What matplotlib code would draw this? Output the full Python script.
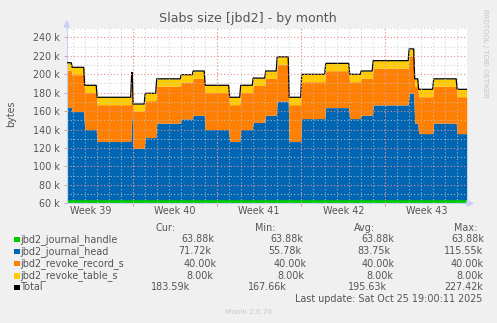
import matplotlib
matplotlib.use("Agg")
import matplotlib.pyplot as plt
import matplotlib.dates as mdates
from matplotlib.patches import Rectangle
import numpy as np
import pandas as pd

# data (values in k bytes)
change_times = ["2025-09-22 11:00", "2025-09-22 21:00", "2025-09-23 22:00", "2025-09-24 23:00",
                "2025-09-27 20:00", "2025-09-27 23:00", "2025-09-28 23:00", "2025-09-29 22:00",
                "2025-10-01 23:00", "2025-10-02 23:00", "2025-10-03 23:00", "2025-10-06 00:00",
                "2025-10-06 22:00", "2025-10-07 23:00", "2025-10-09 00:00", "2025-10-09 23:00",
                "2025-10-10 23:00", "2025-10-12 00:00", "2025-10-14 00:00", "2025-10-16 00:00",
                "2025-10-16 23:00", "2025-10-17 23:00", "2025-10-20 23:00", "2025-10-21 10:00",
                "2025-10-21 18:00", "2025-10-23 00:00", "2025-10-24 23:00"]
journal_head = [100.6, 95.6, 76.1, 63.1, 90.0, 55.78, 67.4, 83.1, 87.6, 91.6, 76.1, 63.1,
                76.1, 83.9, 91.6, 107.0, 63.1, 88.0, 99.9, 88.0, 91.6, 102.8, 115.55, 83.1,
                71.72, 83.1, 71.72]
journal_handle = 63.88
revoke_record = 40.0
revoke_table = 8.0
end_time = "2025-10-25 19:00"

week_labels = ["Week 39", "Week 40", "Week 41", "Week 42", "Week 43"]
week_starts = ["2025-09-21", "2025-09-28", "2025-10-05", "2025-10-12", "2025-10-19"]

legend_names = ["jbd2_journal_handle", "jbd2_journal_head", "jbd2_revoke_record_s",
                "jbd2_revoke_table_s", "Total"]
cur_vals = ["63.88k", "71.72k", "40.00k", "8.00k", "183.59k"]
min_vals = ["63.88k", "55.78k", "40.00k", "8.00k", "167.66k"]
avg_vals = ["63.88k", "83.75k", "40.00k", "8.00k", "195.63k"]
max_vals = ["63.88k", "115.55k", "40.00k", "8.00k", "227.42k"]

colors = ["#00cc00", "#0066b3", "#ff8000", "#ffcc00", "#000000"]

# build step series with short ramps
t = pd.to_datetime(change_times)
t_end = pd.to_datetime(end_time)
ramp = pd.Timedelta(hours=1)
xs, hs = [], []
for i, v in enumerate(journal_head):
    a = t[i] + (ramp if i > 0 else pd.Timedelta(0))
    b = (t[i + 1] - ramp) if i + 1 < len(t) else t_end
    xs += [a, b]
    hs += [v, v]
x = mdates.date2num(pd.DatetimeIndex(xs))
head = np.array(hs) * 1000
handle = np.full_like(head, journal_handle * 1000)
record = np.full_like(head, revoke_record * 1000)
table = np.full_like(head, revoke_table * 1000)

W, H = 497, 323
fig = plt.figure(figsize=(W / 100, H / 100), dpi=100, facecolor="#f0f0f0")
L, R, B, T = 66.7, 466.7, 203.3, 28.1
ax = fig.add_axes([L / W, 1 - B / H, (R - L) / W, (B - T) / H])
ax.set_facecolor("white")

y0 = handle
y1 = y0 + head
y2 = y1 + record
y3 = y2 + table
ax.fill_between(x, 0, y0, color=colors[0], lw=0, zorder=2)
ax.fill_between(x, y0, y1, color=colors[1], lw=0, zorder=2)
ax.fill_between(x, y1, y2, color=colors[2], lw=0, zorder=2)
ax.fill_between(x, y2, y3, color=colors[3], lw=0, zorder=2)
ax.plot(x, y3, color="black", lw=0.9, zorder=3)

x0 = mdates.date2num(t[0])
x1 = mdates.date2num(t_end)
ax.set_xlim(x0, x1)
ax.set_ylim(60000, 250000)

# grid
for d in pd.date_range("2025-09-23", "2025-10-25", freq="D"):
    ax.axvline(mdates.date2num(d), color="#c8c8c8", lw=0.8, ls=(0, (1, 2)), zorder=4, alpha=0.8)
for yv in range(70000, 260000, 20000):
    ax.axhline(yv, color="#c8c8c8", lw=0.8, ls=(0, (1, 2)), zorder=4, alpha=0.8)
for ws in week_starts[1:]:
    ax.axvline(mdates.date2num(pd.Timestamp(ws)), color="#e89090", lw=0.8, ls=(0, (1, 2)), zorder=4)
for yv in range(60000, 250000, 20000):
    ax.axhline(yv, color="#e89090", lw=0.8, ls=(0, (1, 2)), zorder=4)

for s in ["top", "right"]:
    ax.spines[s].set_visible(False)
for s in ["left", "bottom"]:
    ax.spines[s].set_color("#c8d0f5")
    ax.spines[s].set_linewidth(0.8)

ax.set_yticks(range(60000, 250000, 20000))
ax.set_yticklabels(["%d k" % (v // 1000) for v in range(60000, 250000, 20000)])
ax.tick_params(axis="y", length=2, width=0.6, color="#aaaaaa", labelsize=6.9,
               labelcolor="#555555", pad=3)
ax.set_xticks([mdates.date2num(pd.Timestamp(ws)) for ws in week_starts[1:]])
ax.set_xticklabels([])
ax.tick_params(axis="x", length=2, width=0.6, color="#e08080")

for lab, ws in zip(week_labels, week_starts):
    mid = mdates.date2num(pd.Timestamp(ws) + pd.Timedelta(hours=84))
    ax.text(mid, -0.045, lab, transform=ax.get_xaxis_transform(), ha="center", va="center",
            fontsize=6.9, color="#555555")

# axis arrows
fig.patches.append(plt.Polygon([[64 / W, 1 - 27 / H], [69.4 / W, 1 - 27 / H], [66.7 / W, 1 - 21 / H]],
                               closed=True, transform=fig.transFigure, color="#c8d0f5"))
fig.patches.append(plt.Polygon([[467 / W, 1 - 200.6 / H], [467 / W, 1 - 206 / H], [473 / W, 1 - 203.3 / H]],
                               closed=True, transform=fig.transFigure, color="#c8d0f5"))

def fx(px):
    return px / W

def fy(py):
    return 1 - py / H

tc = "#555555"
fig.text(fx(248), fy(18.5), "Slabs size [jbd2] - by month", ha="center", va="center",
         fontsize=9.1, color=tc)
fig.text(fx(11), fy(114), "bytes", ha="center", va="center", rotation=90, fontsize=6.9, color=tc)
fig.text(fx(485), fy(53), "RRDTOOL / TOBI OETIKER", ha="center", va="center", rotation=270,
         fontsize=5, color="#c4c4c4")

# legend table
hdr_x = [165.7, 265.3, 364.5, 465.3]
for hx, h in zip(hdr_x, ["Cur:", "Min:", "Avg:", "Max:"]):
    fig.text(fx(hx), fy(227.7), h, ha="center", va="center", fontsize=6.9, color=tc)

row_y = [239.3, 251.5, 263.6, 275.7, 287.5]
cur_x = [181, 178.3, 184, 186, 150.7]
min_x = [270.7, 268.3, 273.3, 277.3, 248.3]
avg_x = [361, 357.7, 361.7, 366, 348.3]
max_x = [451, 444.3, 450.7, 456, 444.3]
for i, name in enumerate(legend_names):
    ry = row_y[i]
    fig.add_artist(Rectangle((fx(14), fy(ry + 2.8)), 5.5 / W, 5.5 / H, transform=fig.transFigure,
                             facecolor=colors[i], edgecolor="none"))
    fig.text(fx(20.5), fy(ry), name, ha="left", va="center", fontsize=6.9, color=tc)
    fig.text(fx(cur_x[i]), fy(ry), cur_vals[i], ha="left", va="center", fontsize=6.9, color=tc)
    fig.text(fx(min_x[i]), fy(ry), min_vals[i], ha="left", va="center", fontsize=6.9, color=tc)
    fig.text(fx(avg_x[i]), fy(ry), avg_vals[i], ha="left", va="center", fontsize=6.9, color=tc)
    fig.text(fx(max_x[i]), fy(ry), max_vals[i], ha="left", va="center", fontsize=6.9, color=tc)

fig.text(fx(482.5), fy(299.5), "Last update: Sat Oct 25 19:00:11 2025", ha="right", va="center",
         fontsize=6.9, color=tc)
fig.text(fx(248.3), fy(312.3), "Munin 2.0.76", ha="center", va="center", fontsize=5.2,
         color="#c8c8c8")

fig.savefig("out.png", dpi=100, facecolor=fig.get_facecolor())
